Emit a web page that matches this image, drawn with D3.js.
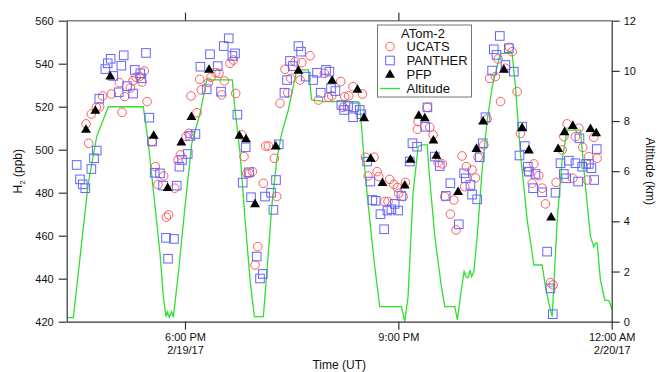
<!DOCTYPE html>
<html>
<head>
<meta charset="utf-8">
<script src="https://cdn.jsdelivr.net/npm/d3@7"></script>
<style>
  body { margin: 0; background: #fff; }
  text { font-family: "Liberation Sans", Arial, sans-serif; fill: #111; }
</style>
</head>
<body>
<div id="chart"></div>
<script>
// times are minutes after 16:00 UT on 2/19/17
const ucatsTime = [36.5, 38.7, 41.0, 45.2, 48.0, 50.5, 57.9, 64.6, 66.9, 69.1, 73.9, 76.2, 78.7, 81.5, 83.7, 85.7, 88.0, 92.2, 95.0, 97.2, 102.0, 104.3, 106.2, 111.3, 114.1, 116.1, 120.9, 123.1, 125.1, 130.2, 132.4, 133.8,
  139.7, 142.0, 145.9, 148.7, 151.0, 153.2, 158.0, 160.8, 162.8, 167.9, 169.8, 172.1, 174.3, 176.9, 179.1, 181.4, 186.1, 188.1, 190.4, 195.4, 197.4, 200.2, 204.4, 206.7, 209.2, 212.9, 217.1, 218.5, 225.5, 232.6, 237.6, 241.0, 243.8,
  251.4, 253.4, 254.8, 258.1, 261.8, 269.7, 272.2, 274.5, 279.5, 282.1, 283.5, 288.5, 291.3, 292.7, 296.1, 299.2, 300.3, 304.0, 306.0, 316.1, 316.7, 324.5, 326.5, 329.3, 333.5, 337.2, 339.2, 343.9, 346.8, 348.7, 353.8, 356.0, 357.4,
  362.2, 365.1, 367.3, 372.1, 374.9, 377.1, 381.9, 384.2, 386.2, 390.4, 393.7, 396.0, 400.2, 403.0, 409.5, 412.9, 414.3, 418.5, 421.3, 424.1, 428.3, 430.6, 433.1, 438.2, 439.6, 442.4, 447.2, 449.4, 452.3, 455.6, 459.3, 460.7, 464.9, 467.7];
const ucatsH2 = [512.0, 503.0, 516.6, 519.7, 520.0, 525.0, 525.9, 531.2, 517.4, 524.7, 528.7, 532.1, 533.7, 534.0, 531.5, 536.6, 522.4, 503.8, 492.1, 483.8, 487.8, 468.6, 469.7, 482.1, 495.2, 497.6, 506.1, 507.6, 525.0, 517.2, 532.7, 527.8,
  531.2, 533.7, 535.8, 535.5, 525.5, 532.0, 540.2, 541.7, 526.2, 506.9, 496.8, 489.0, 489.0, 489.8, 446.4, 454.9, 484.4, 501.7, 501.7, 496.0, 478.2, 521.6, 537.4, 526.5, 533.2, 540.9, 532.4, 540.5, 543.7, 523.1, 535.5, 524.4, 525.0,
  531.7, 519.7, 524.7, 525.0, 529.3, 525.9, 496.5, 487.8, 496.5, 489.8, 487.5, 475.9, 475.9, 486.2, 483.9, 482.4, 479.7, 478.2, 484.8, 509.5, 513.1, 519.7, 510.4, 506.9, 494.0, 493.4, 478.2, 470.0, 476.6, 462.7, 497.1, 482.8, 492.1,
  490.6, 486.9, 496.5, 502.2, 514.3, 533.2, 534.0, 542.2, 522.4, 537.9, 547.6, 545.6, 527.0, 507.6, 489.8, 484.4, 493.4, 487.9, 482.1, 474.8, 438.2, 437.1, 484.8, 499.9, 506.1, 512.0, 486.7, 506.1, 510.0, 501.1, 485.9, 496.8, 505.8, 496.0];

const pantherTime = [28.6, 31.4, 33.7, 35.9, 41.0, 43.2, 45.5, 47.7, 52.8, 54.8, 57.3, 59.5, 64.1, 66.3, 68.3, 71.1, 76.2, 77.6, 82.3, 83.2, 87.1, 89.9, 92.2, 94.4, 98.9, 101.5, 104.0, 105.7, 110.7, 113.0, 115.3, 117.5, 122.3, 124.5, 128.8, 133.0,
  138.3, 141.1, 147.6, 150.4, 152.7, 156.9, 160.0, 162.2, 164.2, 168.7, 171.2, 174.0, 175.7, 180.5, 183.3, 185.6, 187.5, 192.6, 194.6, 196.8, 199.1, 203.9, 206.1, 208.6, 210.9, 215.7, 217.9, 221.9, 228.1, 231.4, 234.5, 239.0, 241.8, 243.2,
  246.9, 251.9, 254.2, 257.6, 261.8, 262.6, 267.4, 268.8, 273.6, 276.4, 278.1, 280.9, 284.9, 288.0, 290.8, 294.1, 296.9, 299.8, 302.6, 309.6, 311.9, 315.8, 322.6, 324.5, 330.7, 334.9, 340.0, 343.9, 351.0, 355.5, 356.9,
  360.8, 362.2, 366.5, 368.7, 371.2, 373.5, 379.1, 380.5, 382.8, 385.6, 390.4, 393.2, 397.4, 402.2, 404.4, 406.7, 409.2, 410.1, 413.7, 415.7, 421.3, 425.5, 428.3, 430.3, 432.6, 436.8, 439.6, 441.6, 443.8, 449.4, 451.7, 452.8, 455.1, 458.4, 460.7, 462.9, 465.2, 467.4];
const pantherH2 = [492.9, 486.2, 483.9, 482.1, 491.0, 496.0, 499.6, 523.7, 537.5, 540.2, 542.3, 534.3, 526.7, 539.1, 543.9, 529.6, 526.1, 537.1, 535.5, 533.2, 545.0, 514.9, 503.8, 489.3, 489.0, 483.3, 459.0, 449.3, 458.5, 483.3, 492.1, 495.2, 498.0, 506.4, 507.3, 538.6,
  528.1, 544.4, 538.9, 527.0, 548.2, 551.8, 543.6, 544.8, 516.3, 484.7, 501.1, 489.5, 477.9, 450.3, 440.1, 442.2, 478.2, 480.0, 472.0, 485.9, 502.5, 526.5, 532.4, 541.3, 538.9, 548.2, 545.6, 534.0, 532.4, 535.8, 526.5, 537.1, 536.3, 528.6,
  527.3, 520.8, 518.5, 520.3, 515.1, 519.7, 518.5, 516.5, 494.5, 485.2, 476.6, 476.2, 470.0, 463.0, 471.7, 472.3, 474.8, 471.7, 478.5, 494.5, 503.0, 501.4, 510.7, 519.7, 496.8, 492.4, 478.5, 484.4, 465.3, 489.0, 486.7,
  483.6, 479.1, 476.9, 496.5, 503.0, 515.1, 536.8, 546.7, 544.1, 552.9, 539.4, 547.2, 536.3, 497.3, 510.7, 501.7, 492.1, 489.8, 482.1, 488.7, 480.2, 452.6, 435.5, 423.5, 480.0, 493.7, 488.7, 486.7, 494.9, 493.7, 485.2, 505.3, 492.1, 493.4, 493.4, 491.4, 485.9, 500.3];

const pfpTime = [36.5, 44.4, 57.0, 93.6, 105.4, 116.9, 125.4, 140.3, 165.9, 171.5, 179.1, 196.6, 215.7, 244.1, 265.5, 271.1, 276.7, 286.6, 305.4, 310.2, 317.2, 322.3, 329.6, 332.1, 350.4, 365.9, 371.5, 389.0, 404.4, 410.1, 428.9, 434.8, 440.2, 447.2, 462.1, 466.9];
const pfpH2 = [509.2, 518.0, 534.0, 506.4, 482.1, 503.3, 515.1, 537.1, 506.4, 504.8, 474.6, 501.4, 536.6, 532.0, 527.8, 514.6, 495.7, 484.4, 483.3, 495.2, 515.7, 514.5, 504.2, 497.1, 480.2, 500.3, 513.0, 537.1, 510.0, 499.6, 468.4, 500.2, 508.1, 511.0, 509.5, 507.6];

const altTime = [20.5, 25.8, 38.4, 45.5, 55.3, 84.8, 89.1, 98.9, 101.7, 104.0, 105.1, 106.8, 108.8, 110.2, 114.4, 120.0, 125.7, 132.7, 138.3, 159.9,
  162.2, 166.5, 170.7, 174.9, 178.5, 186.1, 189.0, 193.2, 197.4, 201.6, 207.2, 214.3, 224.1, 226.9, 238.2, 266.0, 267.5, 271.7, 275.9, 280.1,
  284.3, 302.6, 305.4, 308.2, 312.4, 316.7, 319.4, 324.3, 326.5, 330.8, 336.3, 339.2, 347.6, 349.8, 352.7, 355.5, 357.2, 358.9, 360.5, 361.8,
  363.7, 366.5, 370.7, 375.0, 379.2, 386.1, 396.0, 398.8, 403.0, 408.7, 412.9, 414.3, 421.3, 424.1, 427.0, 429.8, 434.0, 438.2, 442.4, 453.6,
  457.9, 462.1, 464.9, 466.3, 467.7, 470.5, 474.2, 477.6, 480.4];
const altKm = [0.16, 0.16, 5.52, 7.38, 8.57, 8.57, 7.1, 2.73, 1.0, 0.2, 0.39, 0.18, 0.39, 0.18, 1.93, 4.59, 7.1, 8.31, 9.64, 9.64,
  8.44, 6.71, 4.05, 1.66, 0.2, 0.2, 1.93, 4.59, 6.45, 7.51, 8.44, 10.04, 10.04, 8.84, 8.77, 8.77, 8.71, 6.05, 4.05, 2.19,
  0.6, 0.6, 0.0, 1.0, 5.12, 6.98, 7.05, 7.05, 5.65, 3.39, 1.4, 0.6, 0.6, 0.07, 1.13, 2.0, 1.79, 1.75, 2.05, 1.8,
  2.0, 3.39, 6.05, 8.04, 9.37, 10.7, 10.7, 9.37, 6.71, 4.05, 2.73, 2.26, 2.26, 1.4, 0.73, 0.2, 4.05, 6.45, 7.64, 7.64,
  5.38, 3.39, 2.99, 3.13, 3.13, 1.66, 0.86, 0.84, 0.49];

const h2Ticks = [420, 440, 460, 480, 500, 520, 540, 560];
const altTicks = [0, 2, 4, 6, 8, 10, 12];
const timeTicks = [120, 300, 480];

const width = 659, height = 372;
const plotLeft = 66.7, plotRight = 611.7, plotTop = 20.7, plotBottom = 321.7;
const base = Date.UTC(2017, 1, 19, 16, 0);
const toDate = m => new Date(base + m * 60000);

const x = d3.scaleUtc().domain([toDate(20.2), toDate(480)]).range([plotLeft, plotRight]);
const y = d3.scaleLinear().domain([420, 560]).range([plotBottom, plotTop]);
const yAlt = d3.scaleLinear().domain([0, 12]).range([plotBottom, plotTop]);

const svg = d3.select("#chart").append("svg")
  .attr("width", width)
  .attr("height", height);

// altitude trace
const line = d3.line()
  .x((d, i) => x(toDate(altTime[i])))
  .y(d => yAlt(d));
svg.append("path")
  .datum(altKm)
  .attr("d", line)
  .attr("fill", "none")
  .attr("stroke", "#2fe02f")
  .attr("stroke-width", 1.3);

// UCATS circles
svg.append("g").selectAll("circle")
  .data(ucatsH2)
  .enter().append("circle")
  .attr("cx", (d, i) => x(toDate(ucatsTime[i])))
  .attr("cy", d => y(d))
  .attr("r", 4.3)
  .attr("fill", "none")
  .attr("stroke", "#ff5a5a")
  .attr("stroke-width", 1);

// PANTHER squares
svg.append("g").selectAll("rect")
  .data(pantherH2)
  .enter().append("rect")
  .attr("x", (d, i) => x(toDate(pantherTime[i])) - 4.3)
  .attr("y", d => y(d) - 4.3)
  .attr("width", 8.6)
  .attr("height", 8.6)
  .attr("fill", "none")
  .attr("stroke", "#6464ff")
  .attr("stroke-width", 1);

// PFP triangles
const tri = d3.symbol().type(d3.symbolTriangle).size(42);
svg.append("g").selectAll("path")
  .data(pfpH2)
  .enter().append("path")
  .attr("d", tri)
  .attr("transform", (d, i) => "translate(" + x(toDate(pfpTime[i])) + "," + y(d) + ")")
  .attr("fill", "#000");

// frame
svg.append("line")
  .attr("x1", plotLeft).attr("x2", plotRight).attr("y1", plotTop).attr("y2", plotTop)
  .attr("stroke", "#808080").attr("stroke-width", 1.4);

const fmtTime = d3.utcFormat("%-I:%M %p");
const fmtDate = d3.utcFormat("%-m/%-d/%y");

const xAxis = svg.append("g")
  .attr("transform", "translate(0," + plotBottom + ")")
  .call(d3.axisBottom(x).tickValues(timeTicks.map(toDate)).tickSize(8).tickSizeOuter(0).tickFormat(""));
xAxis.selectAll(".tick text").remove();
xAxis.selectAll(".tick").each(function(d, i) {
  const t = d3.select(this).append("text")
    .attr("text-anchor", "middle")
    .attr("font-size", 11);
  t.append("tspan").attr("x", 0).attr("y", 19.5).text(fmtTime(d));
  if (i === 0 || d.getUTCHours() === 0) {
    t.append("tspan").attr("x", 0).attr("y", 32.5).text(fmtDate(d));
  }
});

svg.append("g")
  .attr("transform", "translate(0," + plotTop + ")")
  .call(d3.axisTop(x).tickValues(timeTicks.slice(0, 2).map(toDate)).tickSize(8).tickSizeOuter(0).tickFormat(""))
  .select(".domain").remove();

svg.append("g")
  .attr("transform", "translate(" + plotLeft + ",0)")
  .call(d3.axisLeft(y).tickValues(h2Ticks).tickSize(8).tickSizeOuter(0).tickPadding(5));

svg.append("g")
  .attr("transform", "translate(" + plotRight + ",0)")
  .call(d3.axisRight(yAlt).tickValues(altTicks).tickSize(8).tickSizeOuter(0).tickPadding(4));

svg.selectAll(".domain, .tick line").attr("stroke", "#333").attr("stroke-width", 1.2);
svg.selectAll(".tick text").attr("font-size", 11).attr("fill", "#111")
  .attr("font-family", "'Liberation Sans', Arial, sans-serif");

// axis titles
const yl = svg.append("text")
  .attr("transform", "translate(22," + (plotTop + plotBottom) / 2 + ") rotate(-90)")
  .attr("text-anchor", "middle")
  .attr("font-size", 12);
yl.append("tspan").text("H");
yl.append("tspan").attr("font-size", 8).attr("dy", 3).text("2");
yl.append("tspan").attr("dy", -3).text(" (ppb)");

svg.append("text")
  .attr("transform", "translate(646," + (plotTop + plotBottom) / 2 + ") rotate(90)")
  .attr("text-anchor", "middle")
  .attr("font-size", 12)
  .text("Altitude (km)");

svg.append("text")
  .attr("x", (plotLeft + plotRight) / 2)
  .attr("y", 369)
  .attr("text-anchor", "middle")
  .attr("font-size", 12)
  .text("Time (UT)");

// legend
const lg = svg.append("g");
lg.append("rect")
  .attr("x", 377.5).attr("y", 25).attr("width", 94).attr("height", 72)
  .attr("fill", "#fff").attr("stroke", "#777").attr("stroke-width", 1);
lg.append("text").attr("x", 423).attr("y", 37.5).attr("text-anchor", "middle")
  .attr("font-size", 13).text("ATom-2");
lg.append("circle").attr("cx", 390).attr("cy", 46.5).attr("r", 4.3)
  .attr("fill", "none").attr("stroke", "#ff5a5a");
lg.append("rect").attr("x", 385.7).attr("y", 56.2).attr("width", 8.6).attr("height", 8.6)
  .attr("fill", "none").attr("stroke", "#6464ff");
lg.append("path").attr("d", tri).attr("transform", "translate(390,75)").attr("fill", "#000");
lg.append("line").attr("x1", 380).attr("x2", 400).attr("y1", 88.5).attr("y2", 88.5)
  .attr("stroke", "#2fe02f").attr("stroke-width", 1.3);
const names = ["UCATS", "PANTHER", "PFP", "Altitude"];
lg.selectAll("text.item")
  .data(names)
  .enter().append("text")
  .attr("class", "item")
  .attr("x", 406.5)
  .attr("y", (d, i) => 51 + i * 14)
  .attr("font-size", 13)
  .text(d => d);
</script>
</body>
</html>
